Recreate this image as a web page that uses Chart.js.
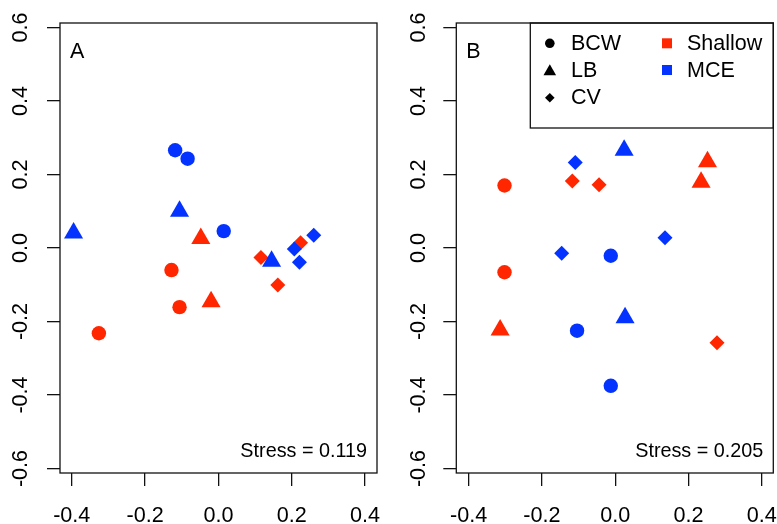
<!DOCTYPE html>
<html>
<head>
<meta charset="utf-8">
<script src="https://cdn.jsdelivr.net/npm/chart.js@4.4.1/dist/chart.umd.min.js"></script>
<style>
  html, body { margin: 0; padding: 0; background: #fff; }
  #wrap { position: relative; width: 777px; height: 524px; overflow: hidden; }
  canvas { position: absolute; top: 0; }
  #cA { left: 0; }
  #cB { left: 390px; }
</style>
</head>
<body>
<div id="wrap">
  <canvas id="cA" width="390" height="524"></canvas>
  <canvas id="cB" width="387" height="524"></canvas>
</div>
<script>
// ---- Data (NMDS coordinates) ----
const groups = ['BCW', 'LB', 'CV'];
const habitats = ['Shallow', 'MCE'];
const xTicks = [-0.4, -0.2, 0.0, 0.2, 0.4];
const yTicks = [-0.6, -0.4, -0.2, 0.0, 0.2, 0.4, 0.6];

// Panel A
const A_BCW_Shallow = [[-0.128, -0.060], [-0.106, -0.161], [-0.326, -0.232]];
const A_BCW_MCE     = [[-0.118, 0.266], [-0.084, 0.243], [0.0145, 0.046]];
const A_LB_Shallow  = [[-0.048, 0.026], [-0.020, -0.146]];
const A_LB_MCE      = [[-0.106, 0.100], [-0.395, 0.041], [0.145, -0.036]];
const A_CV_Shallow  = [[0.224, 0.014], [0.116, -0.026], [0.162, -0.101]];
const A_CV_MCE      = [[0.260, 0.035], [0.207, -0.003], [0.221, -0.039]];
const A_stress = '0.119';

// Panel B
const B_BCW_Shallow = [[-0.302, 0.170], [-0.302, -0.066]];
const B_BCW_MCE     = [[-0.012, -0.021], [-0.104, -0.225], [-0.012, -0.375]];
const B_LB_Shallow  = [[0.252, 0.235], [0.2345, 0.179], [-0.314, -0.223]];
const B_LB_MCE      = [[0.0245, 0.266], [0.027, -0.190]];
const B_CV_Shallow  = [[-0.117, 0.182], [-0.044, 0.172], [0.278, -0.258]];
const B_CV_MCE      = [[-0.109, 0.233], [0.136, 0.028], [-0.146, -0.0145]];
const B_stress = '0.205';

// ---- Styles ----
const COLORS = { Shallow: '#FF2600', MCE: '#0433FF' };
const SHAPES = { BCW: 'circle', LB: 'triangle', CV: 'rectRot' };
const RADII  = { BCW: 7.2, LB: 11, CV: 7.5 };
const FONT = "'Liberation Sans', Arial, Helvetica, sans-serif";
const TICK_PX = 21.6;
const TEXT_PX = 21.5;

function toPts(arr) { return arr.map(p => ({ x: p[0], y: p[1] })); }

function buildDatasets(src) {
  const ds = [];
  for (const g of groups) {
    for (const h of habitats) {
      const arr = src[g + '_' + h];
      ds.push({
        label: g + ' ' + h,
        data: toPts(arr),
        pointStyle: SHAPES[g],
        pointRadius: RADII[g],
        pointHoverRadius: RADII[g],
        backgroundColor: COLORS[h],
        borderColor: COLORS[h],
        borderWidth: 0,
        showLine: false,
        order: h === 'MCE' ? 0 : 1
      });
    }
  }
  return ds;
}

function fmt(v) { return Math.abs(v) < 1e-9 ? '0.0' : v.toFixed(1); }

const decorPlugin = {
  id: 'decor',
  afterDraw(chart, args, opts) {
    const ctx = chart.ctx;
    const a = chart.chartArea;
    ctx.save();
    // box
    ctx.strokeStyle = '#111';
    ctx.lineWidth = 1.3;
    ctx.strokeRect(a.left, a.top, a.right - a.left, a.bottom - a.top);
    // rotated y tick labels
    const ys = chart.scales.y;
    ctx.fillStyle = '#000';
    ctx.font = TICK_PX + 'px ' + FONT;
    ctx.textAlign = 'center';
    ctx.textBaseline = 'alphabetic';
    for (const t of ys.ticks) {
      const py = ys.getPixelForValue(t.value);
      ctx.save();
      ctx.translate(a.left - opts.yLabelGap, py);
      ctx.rotate(-Math.PI / 2);
      ctx.fillText(fmt(t.value), 0, 0);
      ctx.restore();
    }
    // panel letter
    ctx.textAlign = 'left';
    ctx.font = TEXT_PX + 'px ' + FONT;
    ctx.fillText(opts.letter, a.left + 10, a.top + 35);
    // stress
    ctx.textAlign = 'right';
    ctx.font = '19.8px ' + FONT;
    ctx.fillText('Stress = ' + opts.stress, a.right - 10, a.bottom - 16.3);
    // legend
    if (opts.legend) {
      const lx = a.left + 74, ly = a.top;
      const lw = a.right - lx, lh = 105;
      ctx.lineWidth = 1.3;
      ctx.strokeStyle = '#111';
      ctx.strokeRect(lx, ly, lw, lh);
      const rows = [27.3, 54, 80.7];
      ctx.font = TEXT_PX + 'px ' + FONT;
      ctx.textAlign = 'left';
      ctx.fillStyle = '#000';
      const sx = lx + 19.5;
      groups.forEach((g, i) => {
        const cy = ly + rows[i] - 7;
        ctx.fillStyle = '#000';
        ctx.beginPath();
        if (g === 'BCW') {
          ctx.arc(sx, cy, 4.8, 0, Math.PI * 2);
        } else if (g === 'LB') {
          const r = 7.3;
          ctx.moveTo(sx, cy - r + 1.5);
          ctx.lineTo(sx + r * 0.866, cy + r / 2 + 1.5);
          ctx.lineTo(sx - r * 0.866, cy + r / 2 + 1.5);
          ctx.closePath();
        } else {
          const r = 4.8;
          ctx.moveTo(sx - r, cy + 1); ctx.lineTo(sx, cy - r + 1);
          ctx.lineTo(sx + r, cy + 1); ctx.lineTo(sx, cy + r + 1);
          ctx.closePath();
        }
        ctx.fill();
        ctx.fillText(g, lx + 40.7, ly + rows[i]);
      });
      habitats.forEach((h, i) => {
        const cy = ly + rows[i] - 7;
        ctx.fillStyle = COLORS[h];
        ctx.fillRect(lx + 131.7, cy - 5, 10, 10);
        ctx.fillStyle = '#000';
        ctx.fillText(h, lx + 156.7, ly + rows[i]);
      });
    }
    ctx.restore();
  }
};

function makeChart(id, src, yWidth, rightPad, letter, stress, legend, xr, yLabelGap) {
  return new Chart(document.getElementById(id), {
    type: 'scatter',
    data: { datasets: buildDatasets(src) },
    options: {
      responsive: false,
      animation: false,
      devicePixelRatio: 1,
      layout: { autoPadding: false, padding: { top: 23, right: rightPad, left: 0, bottom: 0 } },
      plugins: {
        legend: { display: false },
        tooltip: { enabled: false },
        decor: { letter, stress, legend, yLabelGap }
      },
      scales: {
        x: {
          type: 'linear',
          min: xr[0], max: xr[1],
          afterFit: s => { s.height = 51; s.paddingLeft = 0; s.paddingRight = 0; },
          afterBuildTicks: s => { s.ticks = xTicks.map(v => ({ value: v })); },
          border: { display: false },
          grid: { drawOnChartArea: false, drawTicks: true, tickLength: 13, color: '#111', lineWidth: 1.3 },
          ticks: {
            color: '#000', font: { family: FONT, size: TICK_PX },
            padding: 17, maxRotation: 0, minRotation: 0, autoSkip: false,
            callback: v => fmt(v)
          }
        },
        y: {
          type: 'linear',
          min: -0.6123, max: 0.6123,
          afterFit: s => { s.width = yWidth; s.paddingTop = 0; s.paddingBottom = 0; },
          afterBuildTicks: s => { s.ticks = yTicks.map(v => ({ value: v })); },
          border: { display: false },
          grid: { drawOnChartArea: false, drawTicks: true, tickLength: 13, color: '#111', lineWidth: 1.3 },
          ticks: {
            color: 'rgba(0,0,0,0)', font: { family: FONT, size: TICK_PX },
            callback: v => fmt(v)
          }
        }
      }
    },
    plugins: [decorPlugin]
  });
}

const srcA = {
  BCW_Shallow: A_BCW_Shallow, BCW_MCE: A_BCW_MCE,
  LB_Shallow: A_LB_Shallow, LB_MCE: A_LB_MCE,
  CV_Shallow: A_CV_Shallow, CV_MCE: A_CV_MCE
};
const srcB = {
  BCW_Shallow: B_BCW_Shallow, BCW_MCE: B_BCW_MCE,
  LB_Shallow: B_LB_Shallow, LB_MCE: B_LB_MCE,
  CV_Shallow: B_CV_Shallow, CV_MCE: B_CV_MCE
};

makeChart('cA', srcA, 60, 13, 'A', A_stress, false, [-0.432, 0.4325], 33);
makeChart('cB', srcB, 66.3, 3.7, 'B', B_stress, true, [-0.4336, 0.4316], 31.7);
</script>
</body>
</html>
